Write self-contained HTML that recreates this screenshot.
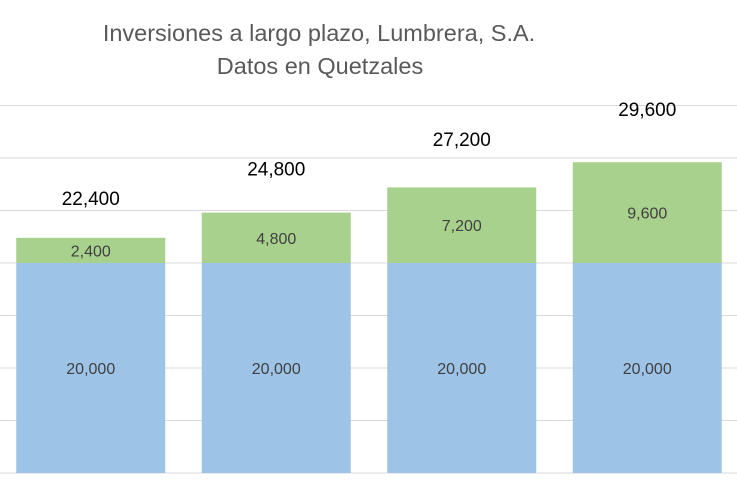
<!DOCTYPE html>
<html><head><meta charset="utf-8"><style>
html,body{margin:0;padding:0;background:#fff;}
svg{display:block;font-family:"Liberation Sans",sans-serif;}
</style></head><body>
<svg id="chart" width="737" height="481">
<text x="319" y="41" text-anchor="middle" font-size="23.5" fill="#595959">Inversiones a largo plazo, Lumbrera, S.A.</text>
<text x="320" y="74" text-anchor="middle" font-size="23.5" fill="#595959">Datos en Quetzales</text>
<g id="grid"></g><g id="bars"></g>
</svg>
<script>
const categories = ["2021","2022","2023","2024"];
const baseValues = [20000,20000,20000,20000];
const interestValues = [2400,4800,7200,9600];
const gridTicks = [0,5000,10000,15000,20000,25000,30000,35000];
const svgNS="http://www.w3.org/2000/svg";
const y0=473, pxPer=210/20000, bandStart=-2, band=185.5, barW=149;
const y=v=>y0-v*pxPer;
const labelY=v=>476-v*0.01236+6;
const xc=i=>bandStart+band*(i+0.5);
const fmt=v=>v.toLocaleString("en-US");
function mk(tag,attrs,parent){const e=document.createElementNS(svgNS,tag);for(const k in attrs)e.setAttribute(k,attrs[k]);parent.appendChild(e);return e;}
const grid=document.getElementById("grid"), bars=document.getElementById("bars");
gridTicks.forEach(t=>{
  const l=mk("line",{x1:0,x2:737,y1:y(t),y2:y(t),stroke:"#d9d9d9","stroke-width":1},grid);
  
  
});
categories.forEach((c,i)=>{
  const x=xc(i)-barW/2, b=baseValues[i], g=interestValues[i], tot=b+g;
  const r1=mk("rect",{x:x,y:y(b),width:barW,height:y(0)-y(b),fill:"#9DC3E6"},bars);
  
  
  const r2=mk("rect",{x:x,y:y(tot),width:barW,height:y(b)-y(tot),fill:"#A9D18E"},bars);
  
  
  const t1=mk("text",{x:xc(i),y:(y(0)+y(b))/2+6,"text-anchor":"middle","font-size":16,fill:"#404040"},bars);
  t1.textContent=fmt(b);
  
  
  const t2=mk("text",{x:xc(i),y:(y(b)+y(tot))/2+6,"text-anchor":"middle","font-size":16,fill:"#404040"},bars);
  t2.textContent=fmt(g);
  
  
  const t3=mk("text",{x:xc(i),y:labelY(tot),"text-anchor":"middle","font-size":19,fill:"#000"},bars);
  t3.textContent=fmt(tot);
  
  
});
</script>
</body></html>
